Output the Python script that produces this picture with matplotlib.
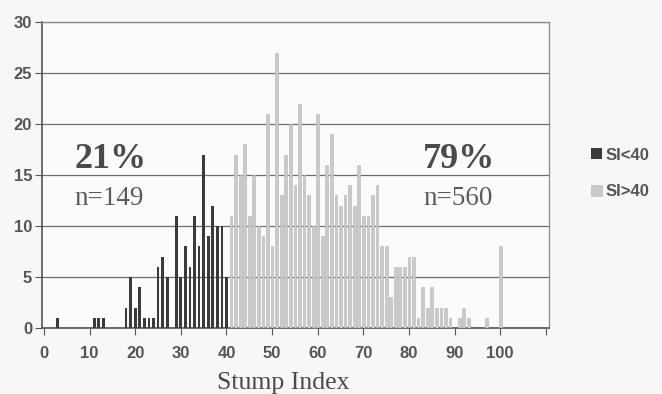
import matplotlib.pyplot as plt
import numpy as np

# Stump index histogram, split at SI = 40
low_si = [3, 11, 12, 13, 18, 19, 20, 21, 22, 23, 24, 25, 26, 27,
          29, 30, 31, 32, 33, 34, 35, 36, 37, 38, 39, 40]
low_n = [1, 1, 1, 1, 2, 5, 2, 4, 1, 1, 1, 6, 7, 5,
         11, 5, 8, 6, 11, 8, 17, 9, 12, 10, 10, 5]

high_si = list(range(41, 90)) + [91, 92, 93, 97, 100]
high_n = [11, 17, 15, 18, 11, 15, 10, 9, 21, 8,      # 41-50
          27, 13, 17, 20, 14, 22, 15, 13, 10, 21,    # 51-60
          9, 16, 19, 13, 12, 13, 14, 12, 16, 11,     # 61-70
          11, 13, 14, 8, 8, 3, 6, 6, 6, 7,           # 71-80
          7, 1, 4, 2, 4, 2, 2, 2, 1,                 # 81-89
          1, 2, 1, 1, 8]

x_ticks = list(range(0, 111, 10))
x_labels = [str(t) for t in range(0, 101, 10)] + ['']
y_ticks = [0, 5, 10, 15, 20, 25, 30]

dark = '#3a3a3a'
light = '#cacaca'
grey_text = '#555555'

fig = plt.figure(figsize=(6.62, 3.94), dpi=100, facecolor='#f7f7f7')
ax = fig.add_axes([0.0634, 0.1675, 0.766, 0.7765])
ax.set_facecolor('#fbfbfb')

ax.bar(low_si, low_n, width=0.6, color=dark, label='SI<40', zorder=3)
ax.bar(high_si, high_n, width=0.6, color=light, edgecolor='#b4b4b4',
       linewidth=0.4, label='SI>40', zorder=3)

ax.set_xlim(-0.44, 110.7)
ax.set_ylim(0, 30)
ax.set_yticks(y_ticks)
ax.set_xticks(x_ticks)
ax.set_xticklabels(x_labels)
ax.yaxis.grid(True, color='#6e6e6e', linewidth=0.9, zorder=1)

for s in ['top', 'right']:
    ax.spines[s].set_color('#8a8a8a')
    ax.spines[s].set_linewidth(0.9)
for s in ['left', 'bottom']:
    ax.spines[s].set_color('#555555')
    ax.spines[s].set_linewidth(1.2)

ax.tick_params(axis='both', direction='out', length=5, color='#555555',
               labelcolor=grey_text, labelsize=12)
ax.tick_params(axis='x', pad=8)
ax.tick_params(axis='y', pad=2)
for lbl in ax.get_xticklabels() + ax.get_yticklabels():
    lbl.set_fontweight('bold')
    lbl.set_family('Liberation Sans')

# percentage annotations
ax.text(6.7, 16.5, '21%', family='Liberation Serif', fontweight='bold',
        fontsize=26, color='#4a4a4a', va='center', ha='left')
ax.text(6.7, 12.7, 'n=149', family='Liberation Serif', fontsize=19.5,
        color='#5a5a5a', va='center', ha='left')
ax.text(83.1, 16.5, '79%', family='Liberation Serif', fontweight='bold',
        fontsize=26, color='#4a4a4a', va='center', ha='left')
ax.text(83.1, 12.7, 'n=560', family='Liberation Serif', fontsize=19.5,
        color='#5a5a5a', va='center', ha='left')

fig.text(283 / 662, 1 - 383 / 394, 'Stump Index', family='Liberation Serif',
         fontsize=18.5, color='#4a4a4a', ha='center', va='center')

leg = fig.legend(loc='center left', bbox_to_anchor=(0.87, 0.56),
                 frameon=False, handlelength=0.65, handleheight=0.65,
                 handletextpad=0.25, labelspacing=1.3,
                 prop={'family': 'Liberation Sans', 'weight': 'bold', 'size': 12})
for t in leg.get_texts():
    t.set_color(grey_text)

fig.savefig('out.png', dpi=100, facecolor=fig.get_facecolor())
